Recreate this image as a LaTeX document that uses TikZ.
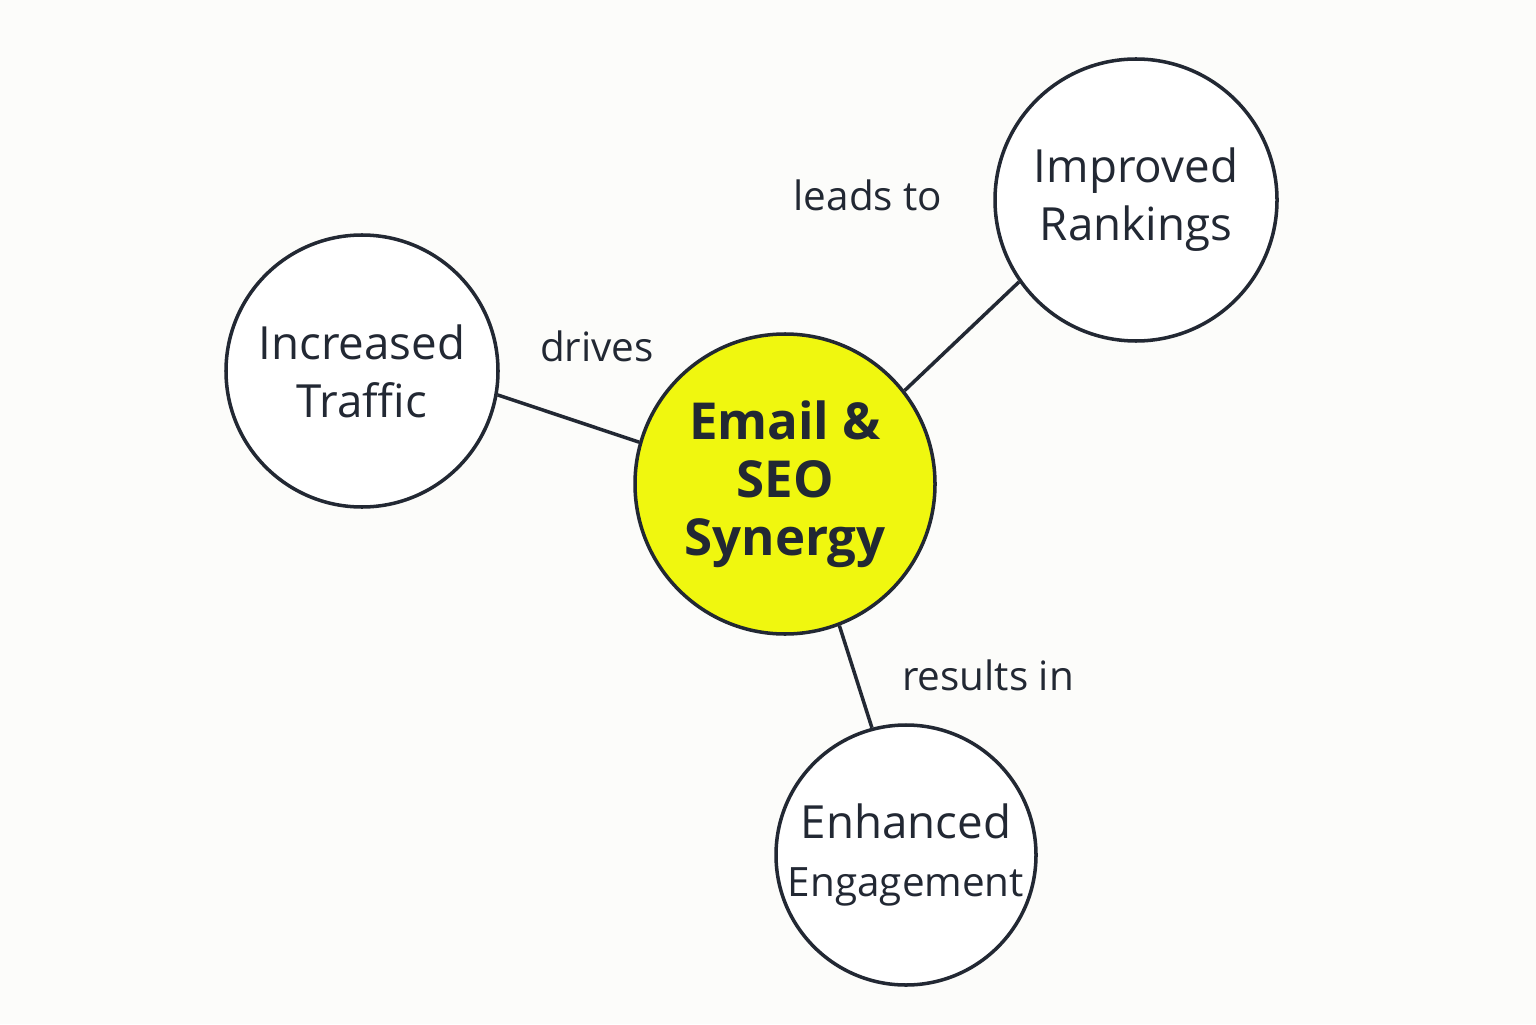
\documentclass[tikz,border=0pt]{standalone}
\usepackage{fontspec}
\setmainfont{Open Sans}
\definecolor{ink}{HTML}{222833}
\definecolor{hub}{HTML}{F0F70F}
\definecolor{paper}{HTML}{FCFCFA}

\begin{document}
\begin{tikzpicture}[line width=1pt,
  bubble/.style={circle, draw=ink, fill=white, inner sep=0pt, align=center, text=ink, font=\fontsize{13}{16.5}\selectfont},
  tag/.style={text=ink, font=\fontsize{11.5}{14}\selectfont}]
% canvas
  \fill[paper] (0,0) rectangle (15.36,10.24);
  \useasboundingbox (0,0) rectangle (15.36,10.24);

% define the bubbles
  \node[bubble, fill=hub, minimum size=3cm, font=\fontsize{14.5}{16.5}\selectfont\bfseries] (hub) at (7.85,5.4) {Email \&\\SEO\\Synergy};
  \node[bubble, minimum size=2.82cm] (rank) at (11.36,8.24) {Improved\\Rankings};
  \node[bubble, minimum size=2.72cm] (traf) at (3.62,6.53) {Increased\\Traffic};
  \node[bubble, minimum size=2.6cm] (eng) at (9.06,1.69) {Enhanced\\{\fontsize{11.5}{15}\selectfont Engagement}};

% define the links
  \draw[ink] (hub.38) -- (rank.215);
  \draw[ink] (hub.164) -- (traf.-10);
  \draw[ink] (hub.-69) -- (eng.105);

  \node[tag] (l1) at (8.68,8.29) {leads to};
  \node[tag] (l2) at (5.97,6.78) {drives};
  \node[tag] (l3) at (9.88,3.49) {results in};
\end{tikzpicture}
\end{document}
